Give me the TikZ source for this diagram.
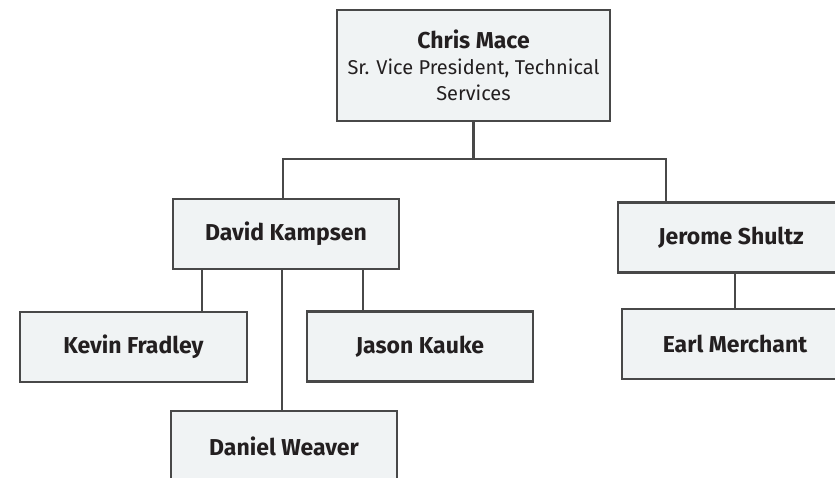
\documentclass[tikz,border=0pt]{standalone}
\usepackage{fontspec}
\setmainfont{Fira Sans}
\definecolor{linegray}{HTML}{484848}
\definecolor{boxfill}{HTML}{F0F3F4}
\definecolor{textdark}{HTML}{231F20}
\begin{document}
\begin{tikzpicture}[x=1pt,y=-1pt,
  person/.style={draw=linegray, fill=boxfill, line width=2.8pt, inner sep=0pt,
    minimum width=226pt, minimum height=70pt, text=textdark,
    font=\fontsize{23}{26}\selectfont\bfseries, align=center},
  link/.style={draw=linegray, line width=2.8pt}]
\useasboundingbox (0,0) rectangle (835,477);
\clip (0,0) rectangle (835,477);
\fill[white] (0,0) rectangle (835,477);
\node[person, minimum width=273pt, minimum height=111pt] (chris) at (473.5,65.5)
  {Chris Mace\\{\mdseries\fontsize{20}{26}\selectfont Sr. Vice President, Technical}\\{\mdseries\fontsize{20}{26}\selectfont Services}};
\node[person] (david) at (286,234) {David Kampsen};
\node[person, minimum width=227pt] (kevin) at (133.5,347) {Kevin Fradley};
\node[person] (jason) at (420,346.5) {Jason Kauke};
\node[person] (daniel) at (284,446) {Daniel Weaver};
\node[person] (jerome) at (731,237.5) {Jerome Shultz};
\node[person] (earl) at (735,344) {Earl Merchant};
\coordinate (busL) at (283,159);
\coordinate (busR) at (666,159);
\coordinate (dk) at (202,269);
\coordinate (dd) at (282,269);
\coordinate (dj) at (363,269);
\draw[link] (chris.south) -- (chris.south |- busL);
\draw[link] (busL |- david.north) -- (busL) -- (busR) -- (busR |- jerome.north);
\draw[link] (dk) -- (dk |- kevin.north);
\draw[link] (dd) -- (dd |- daniel.north);
\draw[link] (dj) -- (dj |- jason.north);
\draw[link] (earl.north |- jerome.south) -- (earl.north);
\end{tikzpicture}
\end{document}
